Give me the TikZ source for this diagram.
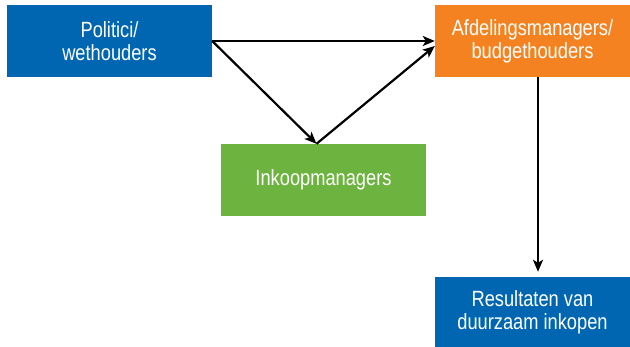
\documentclass[tikz,border=0pt]{standalone}
\usepackage{fontspec}
\setmainfont{Liberation Sans}[FakeStretch=0.83]
\usetikzlibrary {arrows.meta}
\definecolor{boxblue}{RGB}{0,102,178}
\definecolor{boxorange}{RGB}{245,130,32}
\definecolor{boxgreen}{RGB}{109,179,63}
\begin{document}
\begin{tikzpicture}[x=1pt,y=1pt,
    actor/.style={text=white, font=\fontsize{22}{23}\selectfont, align=center, inner sep=0pt},
    flow/.style={line width=2.2pt, -{Stealth[length=12pt,width=10pt,inset=3pt]}}]
      \useasboundingbox (0,0) rectangle (630,-347);
      \node[actor, fill=boxblue, minimum width=205, minimum height=72] (politici) at (109.5,-41) {Politici/\\wethouders};
      \node[actor, fill=boxorange, minimum width=195, minimum height=72] (afdeling) at (532.5,-41) {Afdelingsmanagers/\\budgethouders};
      \node[actor, fill=boxgreen, minimum width=205, minimum height=72] (inkoop) at (323.5,-180) {Inkoopmanagers};
      \node[actor, fill=boxblue, minimum width=195, minimum height=70] (resultaten) at (532.5,-312) {Resultaten van\\duurzaam inkopen};
      \coordinate (top) at ([xshift=-7pt]inkoop.north);
      \draw[flow] (politici.east) -- (afdeling.west);
      \draw[flow] (politici.east) -- (top);
      \draw[flow] (top) -- ([yshift=-5pt]afdeling.west);
      \draw[flow] ([xshift=5.5pt]afdeling.south) -- ([xshift=5.5pt,yshift=5pt]resultaten.north);
    \end{tikzpicture}
\end{document}
